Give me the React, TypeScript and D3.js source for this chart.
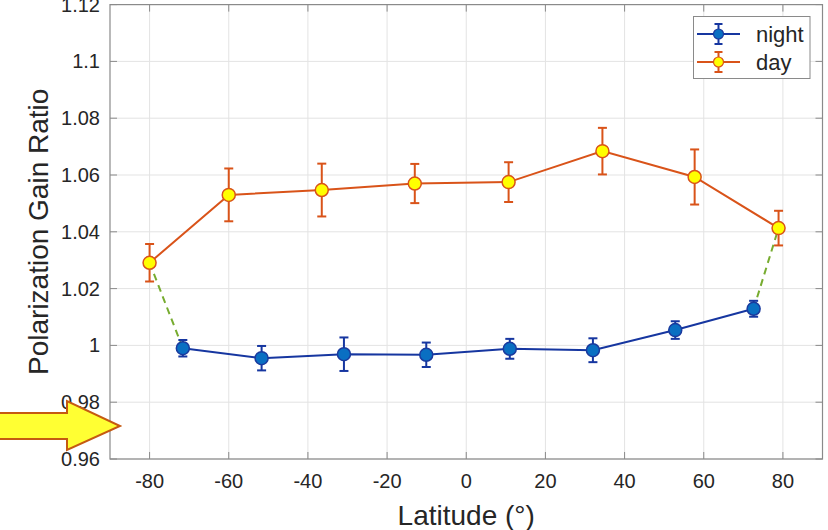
import React, { useEffect, useRef } from 'react';
import * as d3 from 'd3';

// latitude (deg), ratio, half error
const dayLat = [-80, -60, -36.5, -13, 10.7, 34.4, 57.7, 78.9];
const dayVal = [1.0291, 1.053, 1.0547, 1.057, 1.0575, 1.0684, 1.0593, 1.0413];
const dayErr = [0.0066, 0.0093, 0.0093, 0.0069, 0.007, 0.0082, 0.0097, 0.0061];

const nightLat = [-71.6, -51.7, -30.9, -10.1, 11.0, 32.0, 52.8, 72.6];
const nightVal = [0.999, 0.9955, 0.9969, 0.9967, 0.9988, 0.9983, 1.0054, 1.0129];
const nightErr = [0.0029, 0.0043, 0.0059, 0.0043, 0.0035, 0.0042, 0.0031, 0.0028];

const xTicks = [-80, -60, -40, -20, 0, 20, 40, 60, 80];
const yTicks = [0.96, 0.98, 1, 1.02, 1.04, 1.06, 1.08, 1.1, 1.12];

const W = 828;
const H = 530;
const font = '"Liberation Sans", Arial, sans-serif';

const App = () => {
  const ref = useRef<SVGSVGElement>(null);

  useEffect(() => {
    const svg = d3.select(ref.current);
    svg.selectAll('*').remove();

    const left = 110, right = 822.5, top = 4.6, bottom = 459;
    const x = d3.scaleLinear().domain([-90, 90]).range([left, right]);
    const y = d3.scaleLinear().domain([0.96, 1.12]).range([bottom, top]);

    const g = svg.append('g');

    // grid
    g.selectAll('.gx').data(xTicks).join('line')
      .attr('x1', (d) => x(d)).attr('x2', (d) => x(d))
      .attr('y1', top).attr('y2', bottom)
      .attr('stroke', '#e3e3e3').attr('stroke-width', 1);
    g.selectAll('.gy').data(yTicks).join('line')
      .attr('y1', (d) => y(d)).attr('y2', (d) => y(d))
      .attr('x1', left).attr('x2', right)
      .attr('stroke', '#e3e3e3').attr('stroke-width', 1);

    // box
    g.append('rect')
      .attr('x', left).attr('y', top)
      .attr('width', right - left).attr('height', bottom - top)
      .attr('fill', 'none').attr('stroke', '#8a8a8a').attr('stroke-width', 1.2);

    // ticks inward on all sides
    const tl = 7;
    xTicks.forEach((t) => {
      g.append('line').attr('x1', x(t)).attr('x2', x(t)).attr('y1', bottom).attr('y2', bottom - tl)
        .attr('stroke', '#8a8a8a');
      g.append('line').attr('x1', x(t)).attr('x2', x(t)).attr('y1', top).attr('y2', top + tl)
        .attr('stroke', '#8a8a8a');
    });
    yTicks.forEach((t) => {
      g.append('line').attr('y1', y(t)).attr('y2', y(t)).attr('x1', left).attr('x2', left + tl)
        .attr('stroke', '#8a8a8a');
      g.append('line').attr('y1', y(t)).attr('y2', y(t)).attr('x1', right).attr('x2', right - tl)
        .attr('stroke', '#8a8a8a');
    });

    // tick labels
    g.selectAll('.xl').data(xTicks).join('text')
      .attr('x', (d) => x(d)).attr('y', bottom + 29)
      .attr('text-anchor', 'middle')
      .attr('font-family', font).attr('font-size', 20).attr('fill', '#262626')
      .text((d) => `${d}`);
    g.selectAll('.yl').data(yTicks).join('text')
      .attr('x', left - 10).attr('y', (d) => y(d) + 7)
      .attr('text-anchor', 'end')
      .attr('font-family', font).attr('font-size', 20).attr('fill', '#262626')
      .text((d) => `${d}`);

    // axis labels
    g.append('text')
      .attr('x', x(0)).attr('y', 525)
      .attr('text-anchor', 'middle')
      .attr('font-family', font).attr('font-size', 28).attr('fill', '#262626')
      .text('Latitude (°)');
    g.append('text')
      .attr('transform', `translate(48,${(top + bottom) / 2}) rotate(-90)`)
      .attr('text-anchor', 'middle')
      .attr('font-family', font).attr('font-size', 28).attr('fill', '#262626')
      .text('Polarization Gain Ratio');

    // green dashed connectors
    const last = dayLat.length - 1;
    const conn = [
      [[dayLat[0], dayVal[0]], [nightLat[0], nightVal[0]]],
      [[nightLat[last], nightVal[last]], [dayLat[last], dayVal[last]]],
    ];
    const line = d3.line<number[]>().x((d) => x(d[0])).y((d) => y(d[1]));
    conn.forEach((c) => {
      g.append('path').attr('d', line(c)).attr('fill', 'none')
        .attr('stroke', '#77ac30').attr('stroke-width', 2).attr('stroke-dasharray', '7,5');
    });

    const drawSeries = (lat: number[], val: number[], err: number[], lc: string, fc: string, mc: string) => {
      const pts = lat.map((l, i) => [l, val[i]]);
      g.append('path').attr('d', line(pts)).attr('fill', 'none')
        .attr('stroke', lc).attr('stroke-width', 2);
      lat.forEach((l, i) => {
        const cx = x(l);
        const y1 = y(val[i] + err[i]);
        const y2 = y(val[i] - err[i]);
        g.append('line').attr('x1', cx).attr('x2', cx).attr('y1', y1).attr('y2', y2)
          .attr('stroke', lc).attr('stroke-width', 2);
        [y1, y2].forEach((yy) => {
          g.append('line').attr('x1', cx - 4.5).attr('x2', cx + 4.5).attr('y1', yy).attr('y2', yy)
            .attr('stroke', lc).attr('stroke-width', 2);
        });
        g.append('circle').attr('cx', cx).attr('cy', y(val[i])).attr('r', 6.5)
          .attr('fill', fc).attr('stroke', mc).attr('stroke-width', 1.5);
      });
    };

    drawSeries(nightLat, nightVal, nightErr, '#1636a0', '#0a6fc2', '#1a3a9e');
    drawSeries(dayLat, dayVal, dayErr, '#d95319', '#ffff00', '#d95319');

    // legend
    const lg = g.append('g');
    lg.append('rect').attr('x', 693.5).attr('y', 16.5).attr('width', 116.5).attr('height', 62)
      .attr('fill', '#fff').attr('stroke', '#8a8a8a').attr('stroke-width', 1);
    const items = [
      { name: 'night', ly: 34, lc: '#1636a0', fc: '#0a6fc2', mc: '#1a3a9e' },
      { name: 'day', ly: 62, lc: '#d95319', fc: '#ffff00', mc: '#d95319' },
    ];
    items.forEach((it) => {
      lg.append('line').attr('x1', 697).attr('x2', 740).attr('y1', it.ly).attr('y2', it.ly)
        .attr('stroke', it.lc).attr('stroke-width', 2);
      lg.append('line').attr('x1', 718.5).attr('x2', 718.5).attr('y1', it.ly - 10).attr('y2', it.ly + 10)
        .attr('stroke', it.lc).attr('stroke-width', 2);
      [it.ly - 10, it.ly + 10].forEach((yy) => {
        lg.append('line').attr('x1', 714.5).attr('x2', 722.5).attr('y1', yy).attr('y2', yy)
          .attr('stroke', it.lc).attr('stroke-width', 2);
      });
      lg.append('circle').attr('cx', 718.5).attr('cy', it.ly).attr('r', 5)
        .attr('fill', it.fc).attr('stroke', it.mc).attr('stroke-width', 1.2);
      lg.append('text').attr('x', 756).attr('y', it.ly + 8)
        .attr('font-family', font).attr('font-size', 22).attr('fill', '#262626')
        .text(it.name);
    });

    // yellow annotation arrow
    const arrow: [number, number][] = [
      [-10, 413], [67, 413], [67, 401], [120, 426], [67, 450], [67, 439], [-10, 439],
    ];
    svg.append('path')
      .attr('d', d3.line()(arrow) + 'Z')
      .attr('fill', '#ffff33').attr('stroke', '#c55a11').attr('stroke-width', 2)
      .attr('stroke-linejoin', 'miter');
  }, []);

  return (
    <svg
      ref={ref}
      width={W}
      height={H}
      style={{ position: 'absolute', left: 0, top: 0, background: '#fff' }}
    />
  );
};

export default App;
